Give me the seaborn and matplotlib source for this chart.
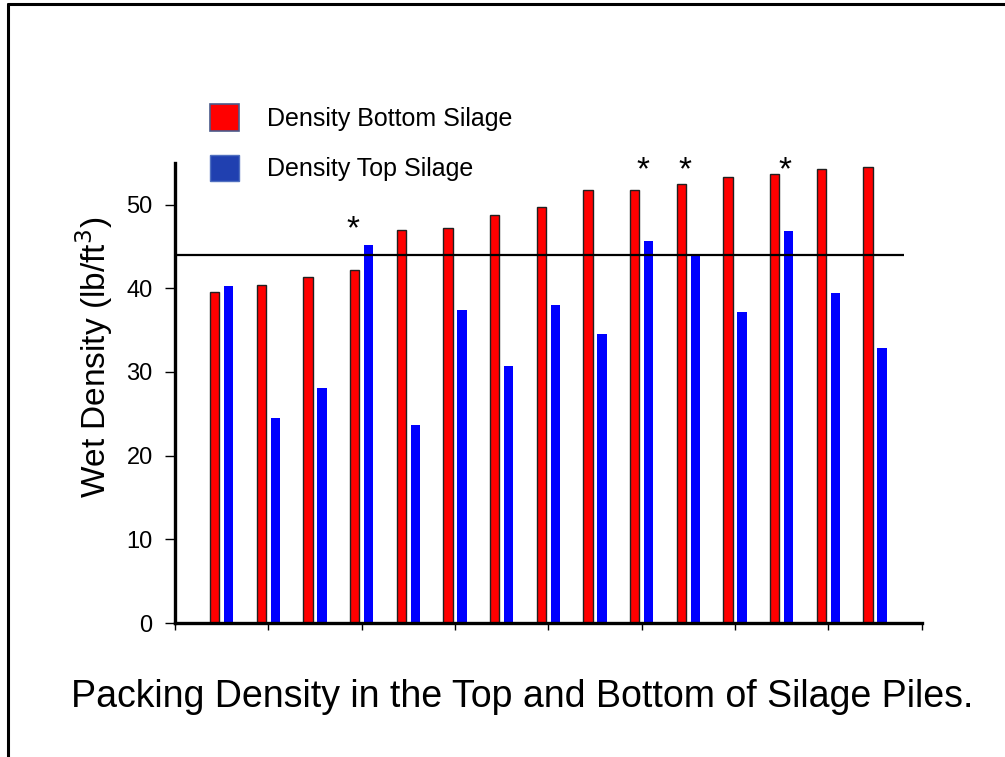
import pandas as pd
import matplotlib.pyplot as plt
import seaborn as sns
from matplotlib.patches import Patch
from matplotlib.lines import Line2D

# bar heights (lb/ft3), one pair per silage pile
piles = list(range(1, 16))
bottom_density = [39.6, 40.4, 41.3, 42.2, 47.0, 47.2, 48.8, 49.7, 51.7, 51.8, 52.5, 53.3, 53.6, 54.2, 54.5]
top_density = [40.3, 24.5, 28.1, 45.2, 23.7, 37.4, 30.7, 38.0, 34.5, 45.7, 44.1, 37.2, 46.8, 39.4, 32.9]

# reference line and significance marks
threshold = 44
star_x = [2.82, 9.04, 9.94, 12.07]
star_y = [47.0, 54.1, 54.1, 54.1]

series_names = ["Density Bottom Silage", "Density Top Silage"]

# long format for seaborn
df = pd.DataFrame({
    "Pile": piles * 2,
    "Density": bottom_density + top_density,
    "Layer": [series_names[0]] * len(piles) + [series_names[1]] * len(piles),
})

sns.set_style("white")
plt.rcParams["font.family"] = ["Liberation Sans", "DejaVu Sans"]
plt.rcParams["text.color"] = "black"
plt.rcParams["axes.labelcolor"] = "black"
plt.rcParams["ytick.color"] = "black"
plt.rcParams["xtick.color"] = "black"

fig = plt.figure(figsize=(10.05, 7.57), dpi=100)
ax = fig.add_axes([0.174, 0.177, 0.743, 0.608])

sns.barplot(
    data=df, x="Pile", y="Density", hue="Layer",
    palette={series_names[0]: "#ff0000", series_names[1]: "#0000ff"},
    saturation=1, width=0.6, gap=0.33, ax=ax, legend=False,
)

# red bars have a dark outline, blue bars none
for bar in ax.containers[0]:
    bar.set_edgecolor("#202020")
    bar.set_linewidth(1.0)
for bar in ax.containers[1]:
    bar.set_edgecolor("none")

ax.hlines(threshold, -1, 14.63, color="black", linewidth=1.6, zorder=3)

for sx, sy in zip(star_x, star_y):
    ax.text(sx, sy, "*", ha="center", va="center", fontsize=24, color="black")

ax.set_xlim(-1, 15)
ax.set_ylim(0, 55)
ax.set_xticks(range(-1, 16, 2))
ax.set_xticklabels([])
ax.set_yticks(range(0, 51, 10))
ax.tick_params(axis="y", direction="out", length=7, width=1, labelsize=17, pad=9, left=True)
ax.tick_params(axis="x", direction="out", length=5, width=1, bottom=True)
ax.set_xlabel("")
ax.set_ylabel("Wet Density (lb/ft$^3$)", fontsize=24)
ax.yaxis.set_label_coords(-0.08, 0.578)

for side in ["top", "right"]:
    ax.spines[side].set_visible(False)
for side in ["left", "bottom"]:
    ax.spines[side].set_linewidth(2.4)
    ax.spines[side].set_color("black")

handles = [
    Patch(facecolor="#ff0000", edgecolor="#4a5a8a", linewidth=1.2),
    Patch(facecolor="#2040b0", edgecolor="#5070c0", linewidth=1.0),
]
fig.legend(
    handles, series_names, loc="upper left", bbox_to_anchor=(0.187, 0.892),
    frameon=False, fontsize=18, handlelength=1.15, handleheight=1.25,
    handletextpad=1.1, labelspacing=0.95,
)

fig.text(0.52, 0.079, "Packing Density in the Top and Bottom of Silage Piles.",
         ha="center", va="center", fontsize=27)

# frame lines on the left and top of the slide
fig.add_artist(Line2D([0.008, 0.008], [0, 0.995], transform=fig.transFigure, color="black", linewidth=2.2))
fig.add_artist(Line2D([0.008, 1.0], [0.995, 0.995], transform=fig.transFigure, color="black", linewidth=2.2))

fig.savefig("out.png", dpi=100)
